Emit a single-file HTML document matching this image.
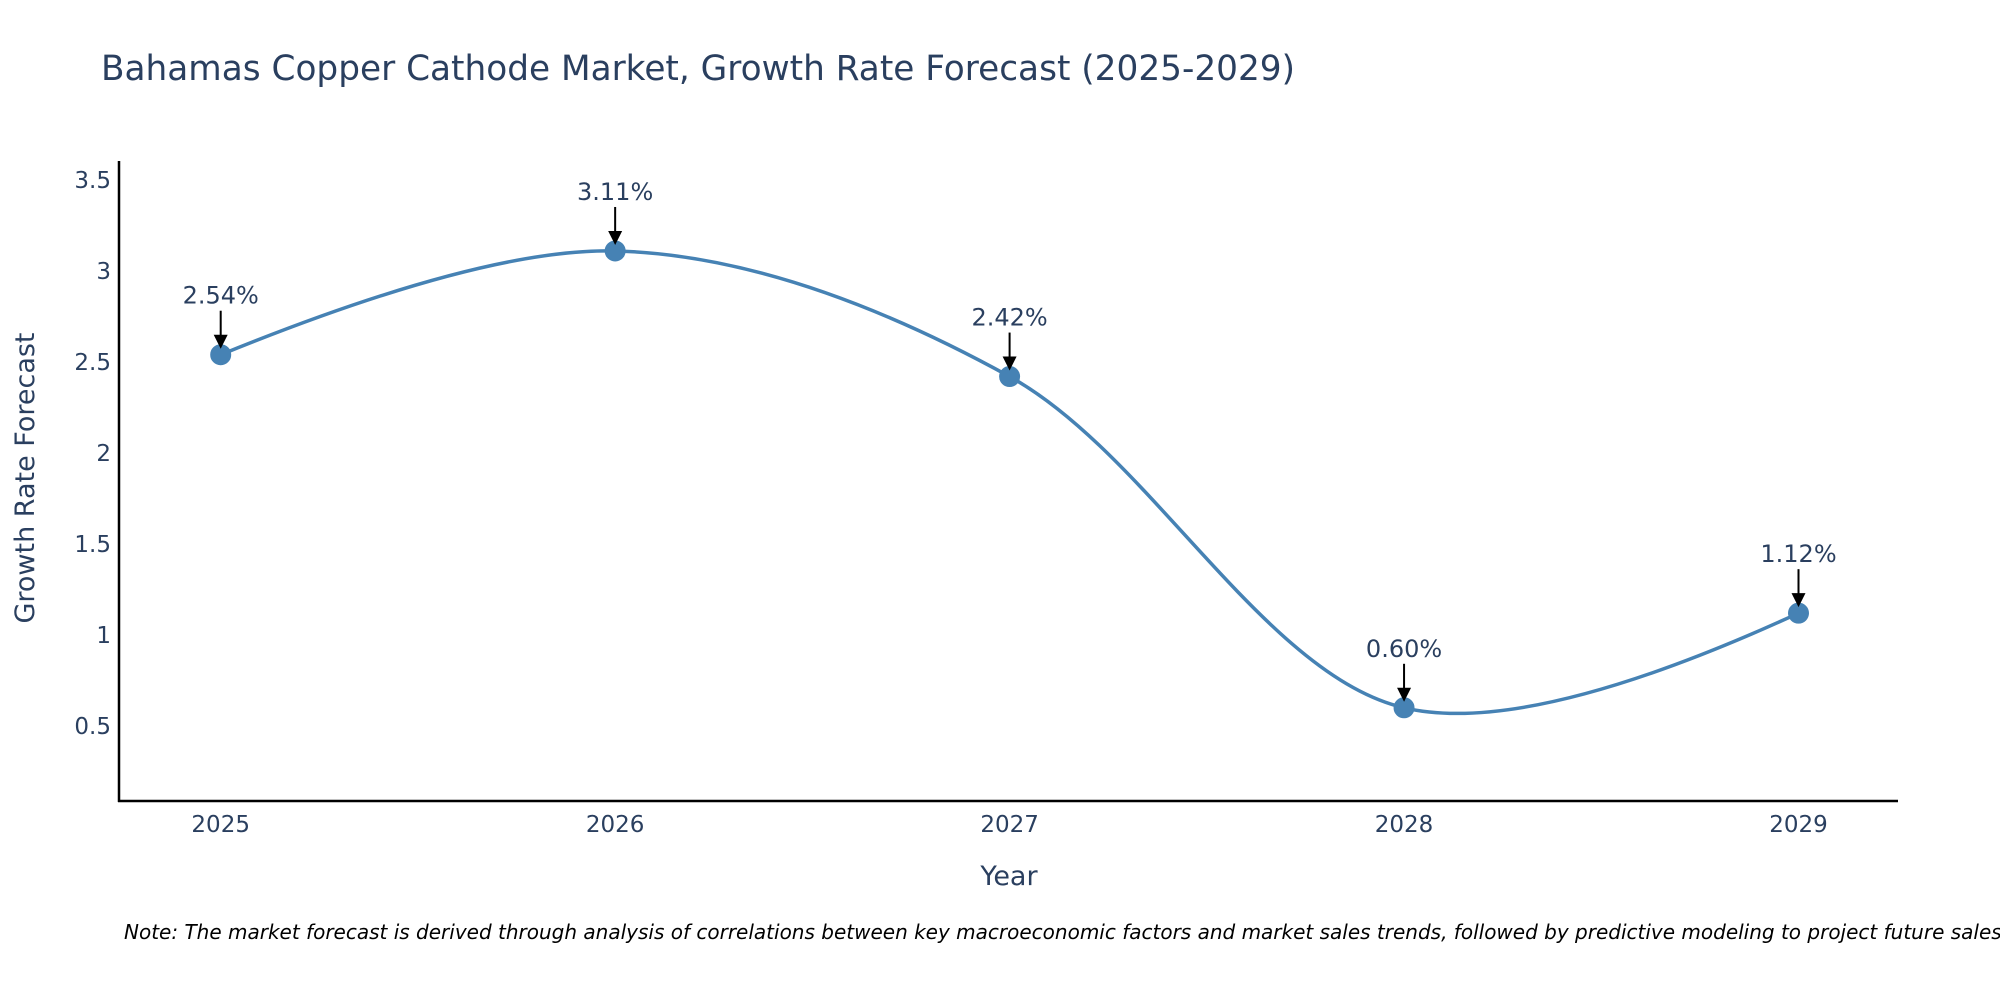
<!DOCTYPE html>
<html><head><meta charset="utf-8"><style>
html,body{margin:0;padding:0;background:#fff;}
svg{display:block;font-family:"DejaVu Sans","Liberation Sans",sans-serif;}
</style></head><body>
<svg id="chart" width="2000" height="1000">
<text x="101" y="80" font-size="34.3" fill="#2a3f5f">Bahamas Copper Cathode Market, Growth Rate Forecast (2025-2029)</text>
<g id="yticks"></g>
<g id="xticks"></g>
<line x1="119" y1="161" x2="119" y2="802" stroke="#000" stroke-width="2.5"/>
<line x1="118" y1="801" x2="1898" y2="801" stroke="#000" stroke-width="2.5"/>
<path id="line" fill="none" stroke="#4682b4" stroke-width="3.5"/>
<g id="marks"></g>
<g id="annots"></g>
<text x="1009" y="885" font-size="27" fill="#2a3f5f" text-anchor="middle">Year</text>
<text transform="translate(34,478) rotate(-90)" font-size="27" fill="#2a3f5f" text-anchor="middle">Growth Rate Forecast</text>
<text x="124" y="939" font-size="20" font-style="italic" fill="#000">Note: The market forecast is derived through analysis of correlations between key macroeconomic factors and market sales trends, followed by predictive modeling to project future sales.</text>
</svg>
<script>
const years = [2025, 2026, 2027, 2028, 2029];
const growth = [2.54, 3.11, 2.42, 0.60, 1.12];
const labels = ["2.54%", "3.11%", "2.42%", "0.60%", "1.12%"];
const yTickVals = [0.5, 1, 1.5, 2, 2.5, 3, 3.5];
const yTickLabels = ["0.5", "1", "1.5", "2", "2.5", "3", "3.5"];

const NS = "http://www.w3.org/2000/svg";
const xS = v => 220.7 + (v - 2025) * 394.45;
const yS = v => 726 - (v - 0.5) * 182;
function mk(tag, attrs, parent) {
  const e = document.createElementNS(NS, tag);
  for (const k in attrs) e.setAttribute(k, attrs[k]);
  parent.appendChild(e);
  return e;
}
const yt = document.getElementById('yticks');
yTickVals.forEach((v, i) => {
  const t = mk('text', {x: 111, y: yS(v) + 8, 'font-size': 23, fill: '#2a3f5f', 'text-anchor': 'end'}, yt);
  t.textContent = yTickLabels[i];
  
  
});
const xt = document.getElementById('xticks');
years.forEach(v => {
  const t = mk('text', {x: xS(v), y: 832, 'font-size': 23, fill: '#2a3f5f', 'text-anchor': 'middle'}, xt);
  t.textContent = v;
  
  
});
const pts = years.map((y, i) => [xS(y), yS(growth[i])]);
function tangent(p, c, n, s) {
  const d1x = p[0]-c[0], d1y = p[1]-c[1], d2x = n[0]-c[0], d2y = n[1]-c[1];
  const d1a = Math.pow(d1x*d1x+d1y*d1y, 0.25), d2a = Math.pow(d2x*d2x+d2y*d2y, 0.25);
  const nx = (d2a*d2a*d1x - d1a*d1a*d2x)*s, ny = (d2a*d2a*d1y - d1a*d1a*d2y)*s;
  const den1 = 3*d2a*(d1a+d2a), den2 = 3*d1a*(d1a+d2a);
  return [[c[0]+nx/den1, c[1]+ny/den1], [c[0]-nx/den2, c[1]-ny/den2]];
}
const tg = [];
for (let i = 1; i < pts.length - 1; i++) tg.push(tangent(pts[i-1], pts[i], pts[i+1], 1));
let d = 'M' + pts[0] + 'Q' + tg[0][0] + ' ' + pts[1];
for (let i = 2; i < pts.length - 1; i++) d += 'C' + tg[i-2][1] + ' ' + tg[i-1][0] + ' ' + pts[i];
d += 'Q' + tg[pts.length-3][1] + ' ' + pts[pts.length-1];
document.getElementById('line').setAttribute('d', d);

const mg = document.getElementById('marks');
const ag = document.getElementById('annots');
years.forEach((y, i) => {
  const cx = xS(y), cy = yS(growth[i]);
  const c = mk('circle', {cx: cx, cy: cy, r: 10, fill: '#4682b4', stroke: '#4682b4'}, mg);
  
  
  const l = mk('line', {x1: cx, y1: cy - 44, x2: cx, y2: cy - 18, stroke: '#000', 'stroke-width': 2}, ag);
  
  
  const h = mk('path', {d: `M${cx-7},${cy-20} L${cx+7},${cy-20} L${cx},${cy-6} Z`, fill: '#000'}, ag);
  
  
  const t = mk('text', {x: cx, y: cy - 51, 'font-size': 24, fill: '#2a3f5f', 'text-anchor': 'middle'}, ag);
  t.textContent = labels[i];
  
  
});
</script>
</body></html>
